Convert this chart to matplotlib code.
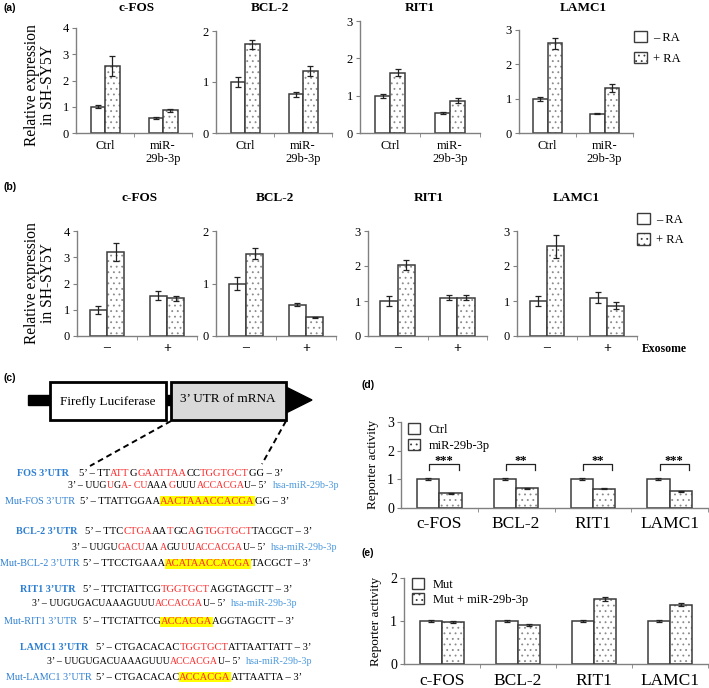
import matplotlib
matplotlib.use('Agg')
import matplotlib.pyplot as plt
import numpy as np
from matplotlib.patches import Patch, Rectangle, Polygon

plt.rcParams['font.family'] = ['Liberation Serif', 'DejaVu Serif']
plt.rcParams['hatch.linewidth'] = 0.6

# ---- data ----
genes = ['c-FOS', 'BCL-2', 'RIT1', 'LAMC1']

# (a) RA treatment, Ctrl vs miR-29b-3p
a_groups = ['Ctrl', 'miR-\n29b-3p']
a_minus = [[1.0, 0.57], [1.0, 0.76], [1.0, 0.53], [1.0, 0.56]]
a_minus_err = [[0.05, 0.03], [0.09, 0.05], [0.05, 0.02], [0.06, 0.02]]
a_plus = [[2.55, 0.87], [1.74, 1.22], [1.62, 0.87], [2.61, 1.30]]
a_plus_err = [[0.38, 0.06], [0.09, 0.10], [0.09, 0.06], [0.15, 0.12]]
a_ymax = [4, 2, 3, 3]

# (b) exosome - / +
b_groups = ['–', '+']
b_minus = [[1.0, 1.54], [1.0, 0.60], [1.0, 1.10], [1.0, 1.10]]
b_minus_err = [[0.15, 0.18], [0.13, 0.03], [0.13, 0.06], [0.13, 0.15]]
b_plus = [[3.20, 1.43], [1.57, 0.36], [2.03, 1.10], [2.56, 0.86]]
b_plus_err = [[0.35, 0.10], [0.10, 0.01], [0.13, 0.08], [0.32, 0.10]]
b_ymax = [4, 2, 3, 3]

# (d) reporter, WT 3'UTR
d_ctrl = [1.0, 1.0, 1.0, 1.0]
d_ctrl_err = [0.04, 0.03, 0.03, 0.03]
d_mir = [0.52, 0.69, 0.67, 0.58]
d_mir_err = [0.02, 0.02, 0.02, 0.03]
d_stars = ['***', '**', '**', '***']

# (e) reporter, mutant 3'UTR
e_mut = [1.0, 1.0, 1.0, 1.0]
e_mut_err = [0.02, 0.02, 0.03, 0.02]
e_mir = [0.98, 0.91, 1.51, 1.38]
e_mir_err = [0.02, 0.03, 0.05, 0.03]

W, H = 709, 688
fig = plt.figure(figsize=(W / 100, H / 100), dpi=100)

# overlay in pixel coords for titles, labels and panel (c)
ov = fig.add_axes([0, 0, 1, 1])
ov.set_xlim(0, W)
ov.set_ylim(H, 0)
ov.axis('off')

EDGE = '#3c3c3c'
SPINE = '#808080'


def px_axes(l, t, r, b):
    return fig.add_axes([l / W, 1 - b / H, (r - l) / W, (b - t) / H])


def style_axes(ax, ncat, ymax, fs):
    ax.set_xlim(-0.5, ncat - 0.5)
    ax.set_ylim(0, ymax)
    for s in ['top', 'right']:
        ax.spines[s].set_visible(False)
    for s in ['left', 'bottom']:
        ax.spines[s].set_color(SPINE)
        ax.spines[s].set_linewidth(1.0)
    ax.set_yticks(range(ymax + 1))
    ax.tick_params(axis='y', direction='out', length=3, color=SPINE, labelsize=fs, pad=2)
    ax.set_xticks(np.arange(ncat))
    ax.set_xticks(np.arange(ncat) + 0.5, minor=True)
    ax.tick_params(axis='x', which='major', length=0)
    ax.tick_params(axis='x', which='minor', length=3, direction='out', color=SPINE)
    ax.patch.set_alpha(0)


def pair_bars(ax, v1, e1, v2, e2, w):
    x = np.arange(len(v1))
    ax.bar(x - w / 2, v1, w, color='white', edgecolor=EDGE, lw=1.1, zorder=2)
    ax.bar(x + w / 2, v2, w, color='white', edgecolor='#8a8a8a', hatch='...', lw=0, zorder=2)
    ax.bar(x + w / 2, v2, w, fill=False, edgecolor=EDGE, lw=1.1, zorder=3)
    for xx, v, e in [(x - w / 2, v1, e1), (x + w / 2, v2, e2)]:
        ax.errorbar(xx, v, yerr=e, fmt='none', ecolor='#222222', elinewidth=0.9,
                    capsize=2.5, capthick=0.9, zorder=4)


def legend_handles():
    return [Patch(facecolor='white', edgecolor=EDGE, lw=1.0),
            Patch(facecolor='white', edgecolor=EDGE, lw=1.0, hatch='...')]


# ---- panel (a) ----
a_boxes = [(76, 28, 192, 133), (216, 31, 332, 133), (360, 21, 480, 133), (519, 30, 633, 133)]
a_title_x = [137, 270, 420, 583]
for i in range(4):
    ax = px_axes(*a_boxes[i])
    style_axes(ax, 2, a_ymax[i], 9)
    pair_bars(ax, a_minus[i], a_minus_err[i], a_plus[i], a_plus_err[i], 0.25)
    ax.set_xticklabels(a_groups, fontsize=9, linespacing=1.1)
    ax.tick_params(axis='x', which='major', pad=5)
    ov.text(a_title_x[i], 8, genes[i], ha='center', va='center', fontsize=9.5, fontweight='bold')
    if i == 3:
        ax.legend(legend_handles(), ['– RA', '+ RA'], loc='upper left',
                  bbox_to_anchor=(634 / W, 1 - 31 / H), bbox_transform=fig.transFigure,
                  frameon=False, fontsize=9, handlelength=1.05, handleheight=1.0,
                  handletextpad=0.5, labelspacing=0.65, borderaxespad=0, borderpad=0)

# ---- panel (b) ----
b_boxes = [(77, 231, 197, 336), (216, 231, 336, 336), (368, 231, 487, 336), (517, 231, 637, 336)]
b_title_x = [140, 275, 429, 576]
for i in range(4):
    ax = px_axes(*b_boxes[i])
    style_axes(ax, 2, b_ymax[i], 9)
    pair_bars(ax, b_minus[i], b_minus_err[i], b_plus[i], b_plus_err[i], 0.29)
    ax.set_xticklabels(b_groups, fontsize=10, fontweight='bold')
    ax.tick_params(axis='x', which='major', pad=4)
    ov.text(b_title_x[i], 198, genes[i], ha='center', va='center', fontsize=9.5, fontweight='bold')
    if i == 3:
        ax.legend(legend_handles(), ['– RA', '+ RA'], loc='upper left',
                  bbox_to_anchor=(637 / W, 1 - 213 / H), bbox_transform=fig.transFigure,
                  frameon=False, fontsize=9, handlelength=1.05, handleheight=1.0,
                  handletextpad=0.5, labelspacing=0.6, borderaxespad=0, borderpad=0)
ov.text(642, 349, 'Exosome', ha='left', va='center', fontsize=8.5, fontweight='bold')

for yc in [85, 283]:
    ov.text(40, yc, 'Relative expression\nin SH-SY5Y', rotation=90, ha='center', va='center',
            fontsize=11.2, linespacing=1.0)

# ---- panel (d) ----
ax = px_axes(401, 422, 708, 508)
style_axes(ax, 4, 3, 10)
pair_bars(ax, d_ctrl, d_ctrl_err, d_mir, d_mir_err, 0.29)
ax.set_xticklabels(genes, fontsize=12.5)
ax.tick_params(axis='x', which='major', pad=6)
for i in range(4):
    xs = [i - 0.13, i - 0.13, i + 0.25, i + 0.25]
    ys = [1.33, 1.55, 1.55, 1.33]
    ax.plot(xs, ys, color='#222222', lw=0.9)
    ax.text(i + 0.06, 1.43, d_stars[i], ha='center', va='bottom', fontsize=9, fontweight='bold')
ax.legend(legend_handles(), ['Ctrl', 'miR-29b-3p'], loc='upper left',
          bbox_to_anchor=(408 / W, 1 - 423 / H), bbox_transform=fig.transFigure,
          frameon=False, fontsize=9, handlelength=0.95, handleheight=0.95,
          handletextpad=0.7, labelspacing=0.25, borderaxespad=0, borderpad=0)
ov.text(373, 464, 'Reporter activity', rotation=90, ha='center', va='center', fontsize=9.5)

# ---- panel (e) ----
ax = px_axes(404, 578, 708, 664)
style_axes(ax, 4, 2, 10)
pair_bars(ax, e_mut, e_mut_err, e_mir, e_mir_err, 0.29)
ax.set_xticklabels(genes, fontsize=12.5)
ax.tick_params(axis='x', which='major', pad=6.5)
ax.legend(legend_handles(), ['Mut', 'Mut + miR-29b-3p'], loc='upper left',
          bbox_to_anchor=(412 / W, 1 - 578 / H), bbox_transform=fig.transFigure,
          frameon=False, fontsize=9, handlelength=0.95, handleheight=0.95,
          handletextpad=0.7, labelspacing=0.2, borderaxespad=0, borderpad=0)
ov.text(376, 621, 'Reporter activity', rotation=90, ha='center', va='center', fontsize=9.5)

# ---- panel labels ----
for lab, x, y in [('(a)', 4, 8), ('(b)', 4, 187), ('(c)', 4, 378), ('(d)', 362, 385), ('(e)', 362, 553)]:
    ov.text(x, y, lab, ha='left', va='center', fontsize=7.5, fontweight='bold', family='Liberation Sans')

# ---- panel (c) construct ----
ov.add_patch(Rectangle((28, 395), 262, 10, color='black', zorder=1))
ov.add_patch(Polygon([(286, 387), (312, 400), (286, 413)], closed=True, color='black', zorder=1))
ov.add_patch(Rectangle((50, 382), 116, 38, facecolor='white', edgecolor='black', lw=2, zorder=2))
ov.add_patch(Rectangle((171, 382), 115, 38, facecolor='#d9d9d9', edgecolor='black', lw=2, zorder=2))
ov.text(108, 402, 'Firefly Luciferase', ha='center', va='center', fontsize=9.5, zorder=3)
ov.text(228, 399, '3’ UTR of mRNA', ha='center', va='center', fontsize=9.5, zorder=3)
ov.plot([171, 90], [421, 466], color='black', lw=1.4, ls=(0, (3, 2)))
ov.plot([286, 262], [421, 464], color='black', lw=1.4, ls=(0, (3, 2)))

BLUE = '#2c7fd2'
BLUE2 = '#4e9be0'
RED = '#ff2a2a'
K, R, Y = 'k', 'r', 'y'

seq_lines = [
    # label, label_x, bold, seq_x, y, segments, tail_x
    ('FOS 3’UTR', 17, True, 79, 473,
     [('5’ – TT', K), ('ATT', R), ('G', K), ('GAATTAA', R), ('CC', K), ('TGGTGCT', R), ('GG – 3’', K)], None),
    ('', 0, False, 68, 486,
     [('3’ – UUG', K), ('U', R), ('G', K), ('A- CU', R), ('AAA', K), ('G', R), ('UUU', K),
      ('ACCACGA', R), ('U– 5’', K)], 279),
    ('Mut-FOS 3’UTR', 5, False, 80, 501,
     [('5’ – TTATTGGAA', K), ('AACTAAACCACGA', Y), ('GG – 3’', K)], None),
    ('BCL-2 3’UTR', 16, True, 85, 532,
     [('5’ – TTC', K), ('CTGA', R), ('AA', K), ('T', R), ('GC', K), ('A', R), ('G', K),
      ('TGGTGCT', R), ('TACGCT – 3’', K)], None),
    ('', 0, False, 72, 547,
     [('3’ – UUGU', K), ('GACU', R), ('AA', K), ('A', R), ('GU', K), ('U', R), ('U', K),
      ('ACCACGA', R), ('U– 5’', K)], 275),
    ('Mut-BCL-2 3’UTR', 0, False, 83, 564,
     [('5’ – TTCCTGAAA', K), ('ACATAACCACGA', Y), ('TACGCT – 3’', K)], None),
    ('RIT1 3’UTR', 20, True, 83, 589,
     [('5’ – TTCTATTCG', K), ('TGGTGCT', R), ('AGGTAGCTT – 3’', K)], None),
    ('', 0, False, 32, 604,
     [('3’ – UUGUGACUAAAGUUU', K), ('ACCACGA', R), ('U– 5’', K)], 237),
    ('Mut-RIT1 3’UTR', 4, False, 83, 622,
     [('5’ – TTCTATTCG', K), ('ACCACGA', Y), ('AGGTAGCTT – 3’', K)], None),
    ('LAMC1 3’UTR', 20, True, 96, 647,
     [('5’ – CTGACACAC', K), ('TGGTGCT', R), ('ATTAATTATT – 3’', K)], None),
    ('', 0, False, 47, 662,
     [('3’ – UUGUGACUAAAGUUU', K), ('ACCACGA', R), ('U– 5’', K)], 256),
    ('Mut-LAMC1 3’UTR', 6, False, 96, 677,
     [('5’ – CTGACACAC', K), ('ACCACGA', Y), ('ATTAATTA – 3’', K)], None),
]

SEQ_FS = 7.6     # mRNA lines
MIR_FS = 7.1     # miRNA lines (U-rich, set a bit smaller to fit like the original)
for label, lx, bold, sx, y, segs, tail_x in seq_lines:
    fs = SEQ_FS if tail_x is None else MIR_FS
    if label:
        ov.text(lx, y, label, ha='left', va='center', fontsize=7.3, color=BLUE,
                fontweight='bold' if bold else 'normal')
    prev = None
    for s, c in segs:
        kw = dict(fontsize=fs, color='black')
        if c == R:
            kw.update(color=RED)
        elif c == Y:
            kw.update(color=RED, bbox=dict(facecolor='#ffff00', edgecolor='none', pad=0.3))
        if prev is None:
            prev = ov.text(sx, y, s, ha='left', va='center', **kw)
        else:
            prev = ov.annotate(s, xy=(1, 0), xycoords=prev, ha='left', va='bottom', **kw)
    if tail_x is not None:
        # miRNA name sits a few pixels after the end of its sequence
        ov.annotate('hsa-miR-29b-3p', xy=(1, 0.5), xycoords=prev, xytext=(6, 0),
                    textcoords='offset pixels', ha='left', va='center', fontsize=7.3, color=BLUE2)

fig.savefig('out.png', dpi=100)
